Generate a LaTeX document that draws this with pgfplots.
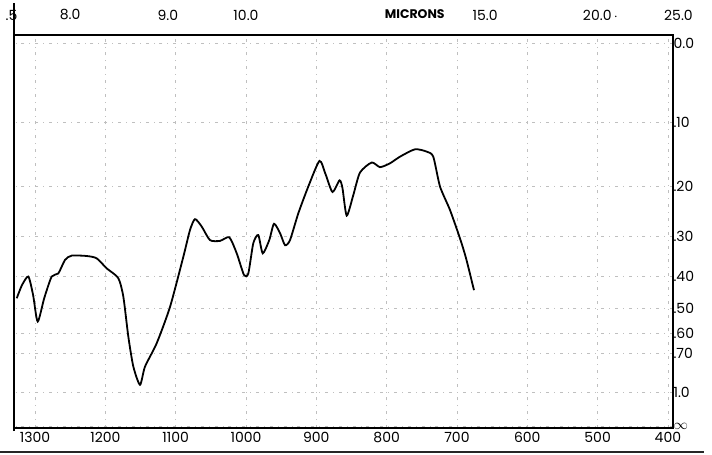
\documentclass[border=0pt]{standalone}
\usepackage{pgfplots}
\pgfplotsset{compat=1.18}
\usepackage{fontspec}
\setmainfont{Poppins}
\begin{document}
\begin{tikzpicture}
\path[use as bounding box] (-14pt,-27pt) rectangle (698pt,428pt);
\begin{axis}[
    scale only axis,
    width=659pt, height=393pt,
    x dir=reverse,
    xmin=392.8, xmax=1329.9,
    ymin=0.0077, ymax=1.0206,
    clip=false,
    xtick={1300,1200,1100,1000,900,800,700,600,500,400},
    xticklabels={1300,1200,1100,1000,900,800,700,600,500,400},
    % absorbance marks on a linear transmittance scale
    ytick={1,0.7943,0.6310,0.5012,0.3981,0.3162,0.2512,0.1995,0.1,0.012},
    yticklabels={0.0,.10,.20,.30,.40,.50,.60,.70,1.0,$\infty$},
    yticklabel pos=right,
    yticklabel style={anchor=west, xshift=-3pt},
    xticklabel style={yshift=-0.5pt},
    major tick length=0pt,
    tick label style={font=\fontsize{14}{16}\selectfont},
    grid=major,
    grid style={gray!50, line width=0.6pt, dash pattern=on 3pt off 5pt on 0.8pt off 5pt},
    axis line style={black, line width=1.2pt},
]
\addplot[black, line width=1.8pt, smooth, tension=0.4] coordinates {
    (1326.0,0.342) (1318.5,0.376) (1309.5,0.398) (1302.8,0.351)
    (1296.2,0.282) (1286.8,0.343) (1276.3,0.398) (1266.9,0.406)
    (1257.3,0.441) (1247.8,0.452) (1226.5,0.451) (1212.3,0.445)
    (1198.0,0.419) (1181.6,0.394) (1174.4,0.346) (1167.3,0.243)
    (1160.2,0.166) (1150.7,0.119) (1143.6,0.166) (1127.0,0.226)
    (1108.0,0.320) (1089.1,0.449) (1079.6,0.518) (1072.5,0.546)
    (1063.0,0.527) (1051.2,0.492) (1036.9,0.490) (1023.7,0.499)
    (1013.2,0.458) (1002.8,0.402) (996.7,0.406) (989.6,0.484)
    (982.5,0.505) (976.2,0.458) (966.9,0.492) (960.2,0.534)
    (951.6,0.510) (944.5,0.479) (937.4,0.492) (925.6,0.561)
    (911.4,0.630) (895.5,0.696) (886.9,0.662) (877.0,0.616)
    (867.0,0.646) (862.8,0.626) (856.8,0.555) (847.4,0.608)
    (837.9,0.666) (821.2,0.692) (809.4,0.680) (795.2,0.690)
    (781.0,0.707) (759.7,0.726) (743.0,0.720) (733.7,0.707)
    (724.1,0.630) (710.0,0.570) (695.8,0.497) (687.2,0.446)
    (675.8,0.363)
};
% micron scale along the top
\begin{scope}[font=\fontsize{14}{16}\selectfont]
\node at ([yshift=20pt]axis cs:1333.3,1.0206) {.5};
\node at ([yshift=20pt]axis cs:1250,1.0206) {8.0};
\node at ([yshift=20pt]axis cs:1111.1,1.0206) {9.0};
\node at ([yshift=20pt]axis cs:1000,1.0206) {10.0};
\node[font=\fontsize{12.5}{14}\selectfont\bfseries] at ([yshift=21pt]axis cs:760,1.0206) {MICRONS};
\node at ([yshift=20pt]axis cs:660,1.0206) {15.0};
\node at ([yshift=20pt]axis cs:496,1.0206) {20.0\,$\cdot$};
\node at ([yshift=20pt]axis cs:385,1.0206) {25.0};
\end{scope}
\end{axis}
% scan edges
\draw[black, line width=2.2pt] (0pt,-3pt) -- (0pt,425pt);
\draw[black, line width=2pt] (0pt,393pt) -- (659pt,393pt);
\draw[black!85, line width=1.5pt] (-14pt,-24pt) -- (690pt,-24pt);
\end{tikzpicture}
\end{document}
